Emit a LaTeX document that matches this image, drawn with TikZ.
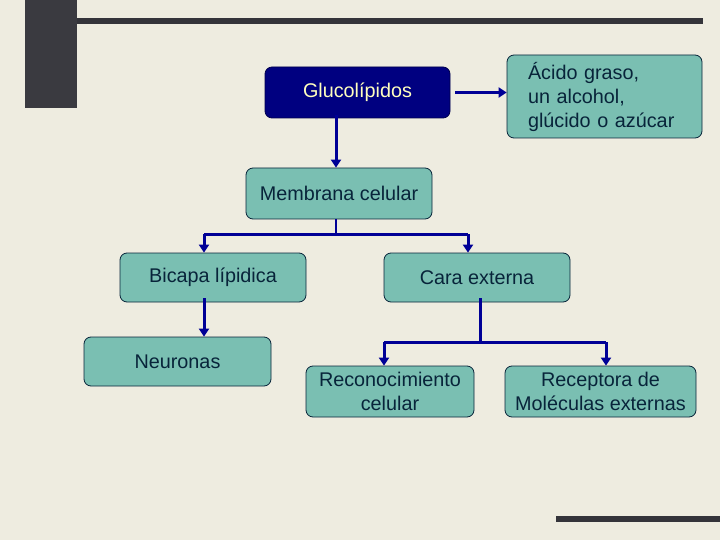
\documentclass[tikz,border=0pt]{standalone}
\usepackage{fontspec}
\setmainfont{Liberation Sans}
\usetikzlibrary{arrows.meta}
\definecolor{fondo}{RGB}{238,236,224}
\definecolor{barra}{RGB}{58,58,64}
\definecolor{azul}{RGB}{0,0,150}
\definecolor{marino}{RGB}{0,0,128}
\definecolor{verde}{RGB}{122,191,178}
\definecolor{tinta}{RGB}{8,36,58}
\tikzstyle{every node}=[font=\fontsize{19.8}{24}\selectfont]
\tikzstyle{caja}=[draw=tinta,line width=0.8pt,rounded corners=7pt,fill=verde,text=tinta,align=center,inner sep=0pt]
\tikzstyle{flecha}=[draw=azul,line width=3pt,-{Triangle[length=8pt,width=10pt]}]
\tikzstyle{rama}=[draw=azul,line width=3pt]

\begin{document}
\begin{tikzpicture}[x=1pt,y=-1pt]
% Fondo y barras
	\fill[fondo] (0,0) rectangle (720,540);
	\fill[barra] (25,0) rectangle (77,108); %% bloque vertical de la esquina
	\fill[barra!90!black] (77,18) rectangle (703,24); %% barra superior
	\fill[barra!90!black] (556,516) rectangle (720,522); %% barra inferior
% Cajas
	\node[caja,fill=marino,draw=marino!60!black,text={rgb,255:red,255;green,255;blue,190},minimum width=185pt,minimum height=51pt] (gluco) at (357.5,92.5) {Glucolípidos};
	\node[caja,align=left,text width=153pt,minimum width=195pt,minimum height=83pt] (acido) at (604.5,96.5) {Ácido graso,\\un alcohol,\\glúcido o azúcar};
	\node[caja,minimum width=186pt,minimum height=51pt] (membrana) at (339,193.5) {Membrana celular};
	\node[caja,minimum width=186pt,minimum height=49pt] (bicapa) at (213,277.5) {Bicapa lípidica};
	\node[caja,minimum width=186pt,minimum height=49pt] (cara) at (477,277.5) {Cara externa};
	\node[caja,minimum width=187pt,minimum height=49pt] (neuronas) at (177.5,361.5) {Neuronas};
	\node[caja,minimum width=168pt,minimum height=51pt] (recon) at (390,391.5) {Reconocimiento\\celular};
	\node[caja,minimum width=191pt,minimum height=51pt] (recep) at (600.5,391.5) {Receptora de\\Moléculas externas};
% Conectores
	\coordinate (split1) at (336,234); %% union bajo membrana
	\coordinate (split2) at (480,342); %% union bajo cara externa
	\draw[flecha] ([xshift=5pt]gluco.east) -- (acido.west |- gluco.east);
	\draw[flecha] ([yshift=3pt]gluco.south -| split1) -- (membrana.north -| split1);
	\draw[draw=azul,line width=1.2pt] (membrana.south -| split1) -- (split1);
	\draw[rama] (split1) -- (split1 -| 204,0);
	\draw[rama] (split1) -- (split1 -| 468,0);
	\draw[flecha] (split1 -| 204,0) -- (bicapa.north -| 204,0);
	\draw[flecha] (split1 -| 468,0) -- (cara.north -| 468,0);
	\draw[flecha] ([yshift=4pt]bicapa.south -| 204,0) -- (neuronas.north -| 204,0);
	\draw[rama] ([yshift=4pt]cara.south -| split2) -- (split2);
	\draw[rama] (split2 -| 384,0) -- (split2 -| 606,0);
	\draw[flecha] (split2 -| 384,0) -- (recon.north -| 384,0);
	\draw[flecha] (split2 -| 606,0) -- (recep.north -| 606,0);
\end{tikzpicture}
\end{document}
